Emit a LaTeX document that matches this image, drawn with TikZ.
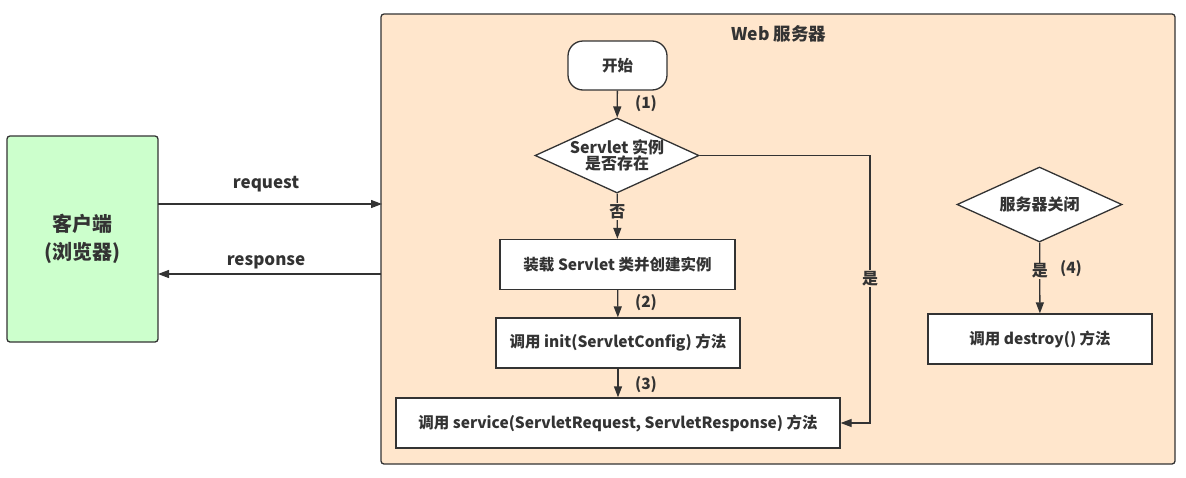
\documentclass[tikz,border=0pt]{standalone}
\usepackage{fontspec}
\setmainfont{Noto Sans CJK SC}
\usetikzlibrary{shapes.geometric,arrows.meta}
\definecolor{ink}{HTML}{333333}
\definecolor{clientfill}{HTML}{CCFFCC}
\definecolor{serverfill}{HTML}{FFE6CC}
\tikzset{
  lbl/.style={text=ink,font=\fontsize{15.5}{17}\selectfont\bfseries},
  edgetext/.style={fill=serverfill,inner sep=1pt,text=ink,font=\fontsize{16}{18}\selectfont\bfseries},
  procbox/.style={draw=ink,line width=1.3pt,fill=white,minimum height=50pt,text=ink,font=\fontsize{15.5}{17}\selectfont\bfseries,inner sep=0pt},
  decision/.style={diamond,draw=ink,line width=1.3pt,fill=white,minimum width=164pt,minimum height=75pt,aspect=2.2,inner sep=0pt,text=ink,font=\fontsize{16}{19}\selectfont\bfseries,align=center},
  conn/.style={draw=ink,line width=1.3pt,-{Triangle[length=11pt,width=8pt]}},
}
\begin{document}
\begin{tikzpicture}[x=1pt,y=-1pt]
\useasboundingbox (0,0) rectangle (1186,477);
% containers
\node[draw=ink,line width=1.3pt,fill=clientfill,rounded corners=3pt,minimum width=151pt,minimum height=206pt,inner sep=0pt,align=center,text=ink,font=\fontsize{20}{28}\selectfont\bfseries] (client) at (82.5,239) {客户端\\(浏览器)};
\node[draw=ink,line width=1.3pt,fill=serverfill,rounded corners=3pt,minimum width=794pt,minimum height=450pt,inner sep=0pt] (server) at (778,239) {};
\node[lbl,font=\fontsize{17.5}{19}\selectfont\bfseries] (title) at (779,34) {Web 服务器};
% request/response
\coordinate (rqa) at (158,204);
\coordinate (rqb) at (382,204);
\coordinate (rsa) at (381,274);
\coordinate (rsb) at (158,274);
\draw[conn] (rqa) -- (rqb);
\draw[conn] (rsa) -- (rsb);
\node[lbl,font=\fontsize{17}{19}\selectfont\bfseries] (req) at (266,184) {request};
\node[lbl,font=\fontsize{17}{19}\selectfont\bfseries] (resp) at (266,262) {response};
% flow
\node[draw=ink,line width=1.3pt,fill=white,rounded corners=15pt,minimum width=99pt,minimum height=49pt,inner sep=0pt,text=ink,font=\fontsize{15.5}{17}\selectfont\bfseries] (start) at (617.5,65.5) {开始};
\node[decision] (exists) at (617,155.5) {Servlet 实例\\[-3pt]是否存在};
\node[procbox,minimum width=235pt] (load) at (617.5,264.5) {装载 Servlet 类并创建实例};
\node[procbox,minimum width=244pt] (init) at (618,343) {调用 init(ServletConfig) 方法};
\node[procbox,minimum width=444pt] (service) at (618,423) {调用 service(ServletRequest, ServletResponse) 方法};
\draw[conn] (start) -- (exists);
\draw[conn] (exists) -- node[edgetext,pos=0.4] (no) {否} (load);
\draw[conn] (load) -- (init);
\draw[conn] (init) -- (service);
\node[lbl] (s1) at (646,104) {(1)};
\node[lbl] (s2) at (646,303) {(2)};
\node[lbl] (s3) at (646,385) {(3)};
\coordinate (c1) at (870,155.5);
\coordinate (c2) at (870,423);
\draw[conn] (exists.east) -- (c1) -- node[pos=0.46,edgetext] (yes) {是} (c2) -- (service.east);
% shutdown
\node[decision,minimum width=165pt,minimum height=75pt] (close) at (1039.5,204.5) {服务器关闭};
\node[procbox,minimum width=224pt] (destroy) at (1040,339) {调用 destroy() 方法};
\draw[conn] (close) -- node[pos=0.4,edgetext] (yes2) {是} (destroy);
\node[lbl] (s4) at (1071,269) {(4)};
\end{tikzpicture}
\end{document}
